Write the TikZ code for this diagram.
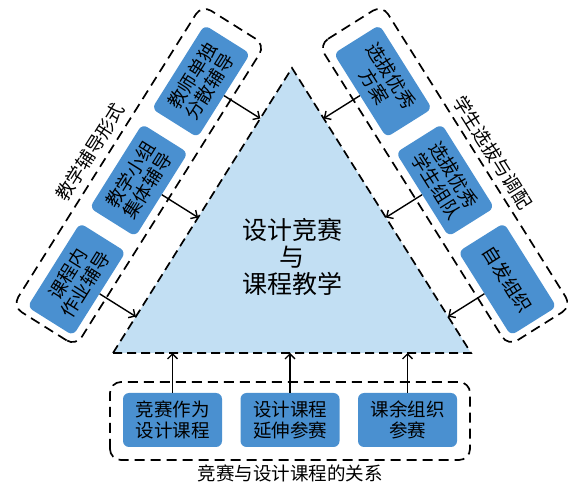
\documentclass[tikz,border=0pt]{standalone}
\usepackage{fontspec}
\newfontfamily\cjk{Noto Sans CJK SC}
\usetikzlibrary{arrows.meta}
\definecolor{boxblue}{HTML}{4A90D0}
\definecolor{trifill}{HTML}{C2DFF3}
\tikzset{
  bluebox/.style={draw=none, fill=boxblue, rounded corners=6pt, minimum width=99pt, minimum height=54pt, align=center, inner sep=2pt, font=\cjk\fontsize{18.5}{20.5}\selectfont},
  grp/.style={draw=black, line width=1.7pt, dash pattern=on 10pt off 6pt, rounded corners=11pt},
  trist/.style={draw=black, line width=1.7pt, dash pattern=on 9pt off 5pt, fill=trifill},
  arr/.style={draw=black, line width=1.4pt, -{Straight Barb[length=5pt,width=10pt]}},
  grplabel/.style={font=\cjk\fontsize{18.5}{20.5}\selectfont, inner sep=0pt}
}
\begin{document}
\begin{tikzpicture}[x=1pt,y=1pt]
\useasboundingbox (0,0) rectangle (568,485);
% triangle
\coordinate (B) at (113,132);
\coordinate (A) at (292,417);
\coordinate (C) at (471,132);
\draw[trist] (B) -- (A) -- (C) -- cycle;
\node[font=\cjk\fontsize{25}{27}\selectfont, align=center] (center) at (292,228) {设计竞赛\\与\\课程教学};

% left side
\begin{scope}[shift={(113,132)}, rotate=57.87]
  \draw[grp] (-14,35) rectangle (342,110);
  \node[bluebox, transform shape] (b1) at (43,70) {课程内\\作业辅导};
  \node[bluebox, transform shape] (b2) at (160,70) {教学小组\\集体辅导};
  \node[bluebox, transform shape] (b3) at (277,70) {教师单独\\分散辅导};
  \coordinate (e1) at (43,0);
  \coordinate (e2) at (160,0);
  \coordinate (e3) at (277,0);
  \node[grplabel, transform shape] (lleft) at (158,126) {教学辅导形式};
\end{scope}
\draw[arr] (b1.south) -- (e1);
\draw[arr] (b2.south) -- (e2);
\draw[arr] (b3.south) -- (e3);

% right side
\begin{scope}[shift={(292,417)}, rotate=-57.87]
  \draw[grp] (-5.5,35) rectangle (350.5,110);
  \node[bluebox, transform shape] (r1) at (59.5,70) {选拔优秀\\方案};
  \node[bluebox, transform shape] (r2) at (176.5,70) {选拔优秀\\学生组队};
  \node[bluebox, transform shape] (r3) at (293.5,70) {自发组织};
  \coordinate (g1) at (59.5,0);
  \coordinate (g2) at (176.5,0);
  \coordinate (g3) at (293.5,0);
  \node[grplabel, transform shape] (lright) at (178,125) {学生选拔与调配};
\end{scope}
\draw[arr] (r1.south) -- (g1);
\draw[arr] (r2.south) -- (g2);
\draw[arr] (r3.south) -- (g3);

% bottom
\draw[grp] (110,25) rectangle (470,103);
\node[bluebox] (c1) at (172.5,65) {竞赛作为\\设计课程};
\node[bluebox] (c2) at (290,65) {设计课程\\延伸参赛};
\node[bluebox] (c3) at (407.5,65) {课余组织\\参赛};
\coordinate (f1) at (172.5,132);
\coordinate (f2) at (290,132);
\coordinate (f3) at (407.5,132);
\draw[arr] (c1.north) -- (f1);
\draw[arr] (c2.north) -- (f2);
\draw[arr] (c3.north) -- (f3);
\node[grplabel] (lbottom) at (290,12) {竞赛与设计课程的关系};
\end{tikzpicture}
\end{document}
